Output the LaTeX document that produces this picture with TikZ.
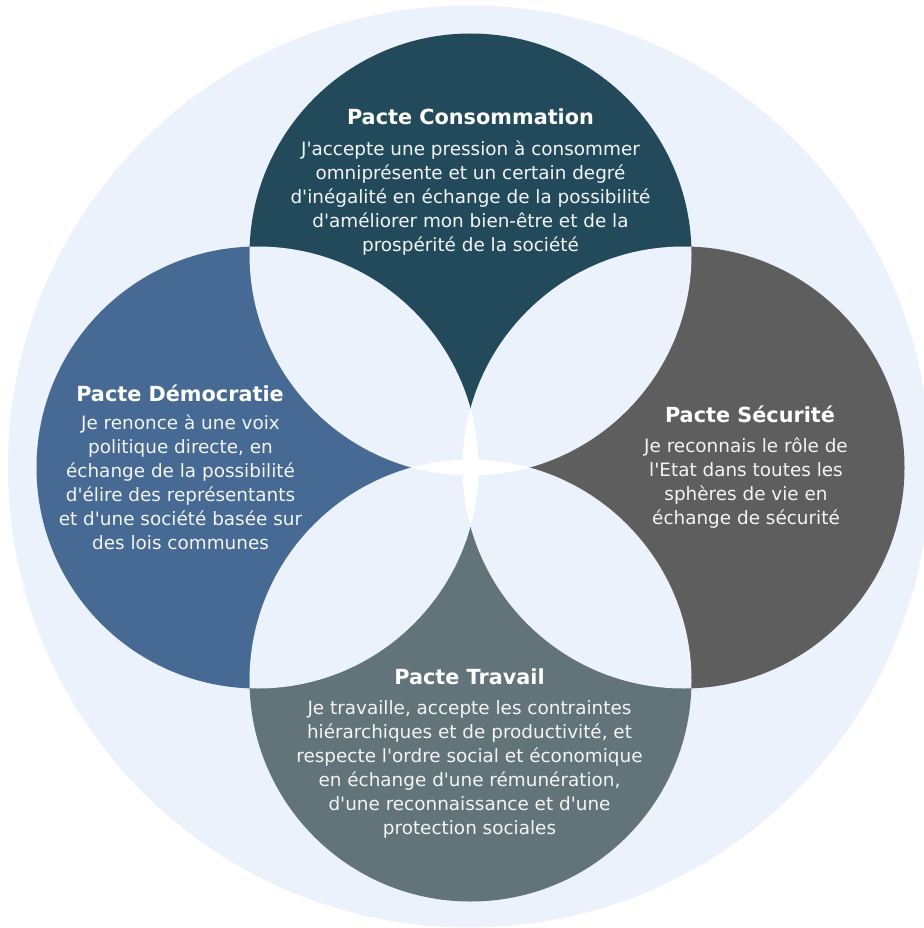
\documentclass[tikz,border=0pt]{standalone}
\usepackage{fontspec}
\setmainfont{DejaVu Sans}[Ligatures=TeXOff]
\definecolor{bgblue}{HTML}{EBF2FB}
\definecolor{ctop}{HTML}{234A5B}
\definecolor{cleft}{HTML}{466A93}
\definecolor{cright}{HTML}{5E5E5E}
\definecolor{cbot}{HTML}{627479}
\definecolor{bodytxt}{HTML}{F2F4F6}
\tikzset{
  pacttitle/.style={anchor=base, inner sep=0pt, text=white, font=\fontsize{20.8}{24}\selectfont\bfseries},
  pactbody/.style={anchor=north, inner sep=0pt, text=bodytxt, align=center, font=\fontsize{18.4}{24}\selectfont},
}
\begin{document}
\begin{tikzpicture}[x=1pt,y=-1pt]
\useasboundingbox (0,0) rectangle (923,928);
\fill[bgblue] (469,466.5) circle[radius=461pt];
\coordinate (T) at (470.5,254.5);
\coordinate (B) at (470.5,680.5);
\coordinate (L) at (257.5,467.5);
\coordinate (R) at (683.5,467.5);
\def\rr{221pt}
\fill[ctop] (T) circle[radius=\rr];
\fill[cbot] (B) circle[radius=\rr];
\fill[cleft] (L) circle[radius=\rr];
\fill[cright] (R) circle[radius=\rr];
\begin{scope}\clip (T) circle[radius=\rr];
  \fill[bgblue] (L) circle[radius=\rr];
  \fill[bgblue] (R) circle[radius=\rr];
\end{scope}
\begin{scope}\clip (B) circle[radius=\rr];
  \fill[bgblue] (L) circle[radius=\rr];
  \fill[bgblue] (R) circle[radius=\rr];
\end{scope}
\begin{scope}\clip (T) circle[radius=\rr];
  \fill[white] (B) circle[radius=\rr];
\end{scope}
\begin{scope}\clip (L) circle[radius=\rr];
  \fill[white] (R) circle[radius=\rr];
\end{scope}
\node[pacttitle] (tT) at (470.5,125) {Pacte Consommation};
\node[pactbody] (bT) at (470.5,140.5) {J'accepte une pression à consommer\\omniprésente et un certain degré\\d'inégalité en échange de la possibilité\\d'améliorer mon bien-être et de la\\prospérité de la société};
\node[pacttitle] (tL) at (180,401) {Pacte Démocratie};
\node[pactbody] (bL) at (180.5,414.5) {Je renonce à une voix\\politique directe, en\\échange de la possibilité\\d'élire des représentants\\et d'une société basée sur\\des lois communes};
\node[pacttitle] (tR) at (750,422) {Pacte Sécurité};
\node[pactbody] (bR) at (746,437.5) {Je reconnais le rôle de\\l'Etat dans toutes les\\sphères de vie en\\échange de sécurité};
\node[pacttitle] (tB) at (469.5,684) {Pacte Travail};
\node[pactbody] (bB) at (469.5,700) {Je travaille, accepte les contraintes\\hiérarchiques et de productivité, et\\respecte l'ordre social et économique\\en échange d'une rémunération,\\d'une reconnaissance et d'une\\protection sociales};
\end{tikzpicture}
\end{document}
